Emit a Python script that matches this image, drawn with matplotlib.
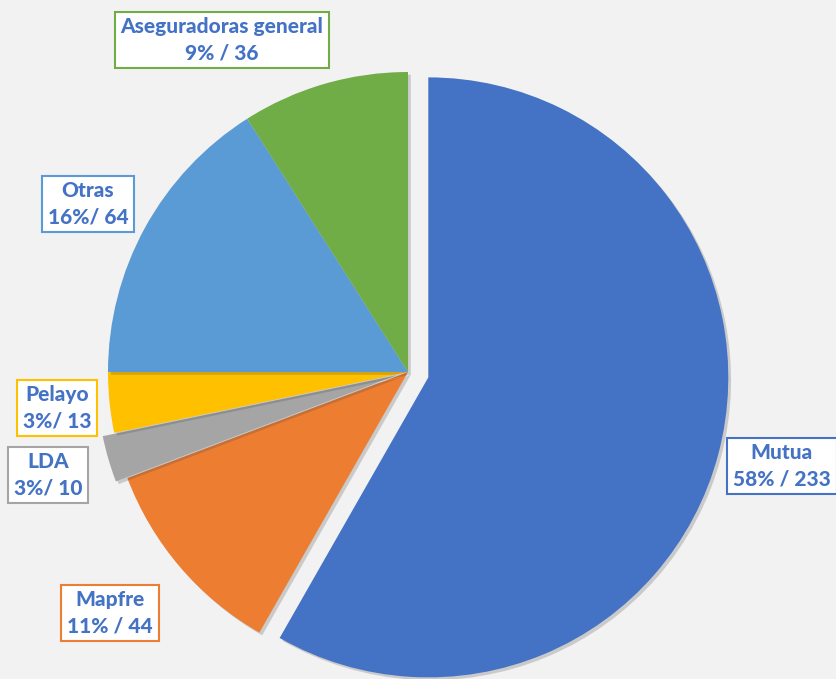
import matplotlib.pyplot as plt
import matplotlib.patheffects as pe

labels = ["Mutua", "Mapfre", "LDA", "Pelayo", "Otras", "Aseguradoras general"]
values = [233, 44, 10, 13, 64, 36]
pcts = ["58% / 233", "11% / 44", "3%/ 10", "3%/ 13", "16%/ 64", "9% / 36"]
colors = ["#4472c4", "#ed7d31", "#a5a5a5", "#ffc000", "#5b9bd5", "#70ad47"]
explode = [21, 0, 12, 0, 0, 0]  # in pixels, pie explode is absolute

# label box centres in pixel coords (y from top)
label_pos = [(782, 466), (110, 613), (48, 475), (57, 408), (88, 204), (222, 40)]

fig = plt.figure(figsize=(8.37, 6.79), dpi=100)
fig.patch.set_facecolor("#f2f2f2")
ax = fig.add_axes([0, 0, 1, 1])
ax.set_facecolor("#f2f2f2")

wedges, _ = ax.pie(values, colors=colors, startangle=90, counterclock=False,
                   explode=explode, radius=300, center=(408, 679 - 372),
                   wedgeprops=dict(linewidth=0), frame=True)
ax.set_xlim(0, 837)
ax.set_ylim(0, 679)
ax.axis("off")
for w in wedges:
    w.set_path_effects([pe.SimplePatchShadow(offset=(2, -2), alpha=0.22, shadow_rgbFace="#404040"),
                        pe.Normal()])

for name, p, c, (x, y) in zip(labels, pcts, colors, label_pos):
    ax.text(x, 679 - y, name + "\n" + p, ha="center", va="center",
            fontsize=15, fontweight="black", family=["Lato", "DejaVu Sans"],
            color="#4472c4", linespacing=1.45,
            bbox=dict(boxstyle="square,pad=0.28", fc="white", ec=c, lw=1.5))

fig.savefig("out.png", dpi=100, facecolor=fig.get_facecolor())
